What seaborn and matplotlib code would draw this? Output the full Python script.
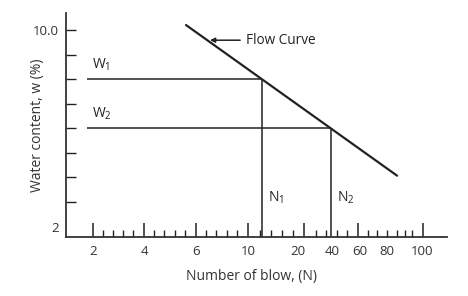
import matplotlib
matplotlib.use("Agg")
import matplotlib.pyplot as plt
import seaborn as sns
import numpy as np
import pandas as pd

# ---- data ----
# x axis is a schematic "blow" scale: labels placed along a position scale 0-100
blow_labels = ['2', '4', '6', '10', '20', '40', '60', '80', '100']
blow_label_pos = [7.09, 20.47, 34.12, 47.77, 60.89, 69.82, 77.17, 84.25, 93.44]
blow_major_pos = [7.09, 20.47, 34.12, 47.77, 62.47, 76.64, 93.70]
blow_minor_pos = [9.71, 12.34, 14.96, 17.59, 23.10, 25.72, 28.61, 31.23,
                  36.75, 39.37, 42.26, 44.88, 50.92, 53.81, 56.69, 59.58,
                  65.62, 68.24, 71.13, 73.75, 79.27, 81.63, 84.25, 86.88,
                  88.98, 90.81]
water_ticks = [3, 4, 5, 6, 7, 8, 9]
water_labels = {2: '2', 10: '10.0'}

flow_x = [31.5, 86.9]       # flow curve end points (blow-scale position)
flow_w = [10.2, 4.07]       # water content at those points
w_levels = [8.0, 6.0]       # W1, W2
w_names = ['W$_\\mathrm{1}$', 'W$_\\mathrm{2}$']
n_names = ['N$_\\mathrm{1}$', 'N$_\\mathrm{2}$']
guide_start = 5.5

# ---- style ----
sns.set_theme(style='ticks')
plt.rcParams['font.family'] = ['Open Sans', 'DejaVu Sans']
plt.rcParams['mathtext.fontset'] = 'custom'
plt.rcParams['mathtext.rm'] = 'Open Sans'
plt.rcParams['mathtext.it'] = 'Open Sans:italic'
ink = '#222222'

fig = plt.figure(figsize=(4.68, 2.96), dpi=100)
ax = fig.add_axes([66/468, 1-237/296, (447-66)/468, (237-13)/296])

df = pd.DataFrame({'x': flow_x, 'w': flow_w})
sns.lineplot(data=df, x='x', y='w', ax=ax, color=ink, lw=1.6)

slope = (flow_w[1]-flow_w[0])/(flow_x[1]-flow_x[0])
n_pos = [flow_x[0] + (w - flow_w[0])/slope for w in w_levels]

ymin, ymax = 1.575, 10.69
for w, n, wn, nn in zip(w_levels, n_pos, w_names, n_names):
    ax.hlines(w, guide_start, n, color=ink, lw=1.1)
    ax.vlines(n, ymin, w, color=ink, lw=1.1)
    ax.text(guide_start + 1.3, w + 0.25, wn, fontsize=10, color=ink,
            ha='left', va='bottom')
    ax.text(n + 1.7, 3.16, nn, fontsize=10, color=ink, ha='left', va='center')

# flow curve annotation
tip_x = 37.8
tip_w = flow_w[0] + slope*(tip_x - flow_x[0]) + 0.08
ax.annotate('Flow Curve', xy=(tip_x, tip_w), xytext=(47.3, tip_w),
            fontsize=9.8, color=ink, va='center', ha='left',
            arrowprops=dict(arrowstyle='-|>', color=ink, lw=1.1,
                            mutation_scale=7, shrinkA=2, shrinkB=0))

ax.set_xlim(0, 100)
ax.set_ylim(ymin, ymax)

# axes ticks
ax.set_xticks(blow_major_pos)
ax.set_xticks(blow_minor_pos, minor=True)
ax.set_xticklabels([])
ax.tick_params(axis='x', which='major', direction='in', length=10, width=1.1,
               color=ink)
ax.tick_params(axis='x', which='minor', direction='in', length=4.7, width=1.0,
               color=ink)
for p, lab in zip(blow_label_pos, blow_labels):
    ax.text(p, -0.035, lab, transform=ax.get_xaxis_transform(), ha='center',
            va='top', fontsize=9.5, color='#333333')

ax.set_yticks(list(water_labels.keys()))
ax.set_yticklabels(list(water_labels.values()), fontsize=9.5, color='#333333')
ax.set_yticks(water_ticks, minor=True)
ax.tick_params(axis='y', which='both', direction='in', length=7.2, width=1.0,
               color=ink, pad=5)
ax.yaxis.get_major_ticks()[0].tick1line.set_visible(False)

ax.set_xlabel('Number of blow, (N)', fontsize=10, color='#333333')
ax.xaxis.set_label_coords(0.487, -0.145)
ax.set_ylabel('Water content, w (%)', fontsize=10, color='#333333')
ax.yaxis.set_label_coords(-0.056, 0.5)

for s in ['top', 'right']:
    ax.spines[s].set_visible(False)
for s in ['left', 'bottom']:
    ax.spines[s].set_linewidth(1.3)
    ax.spines[s].set_color('#333333')

fig.savefig('out.png', dpi=100, facecolor='white')
